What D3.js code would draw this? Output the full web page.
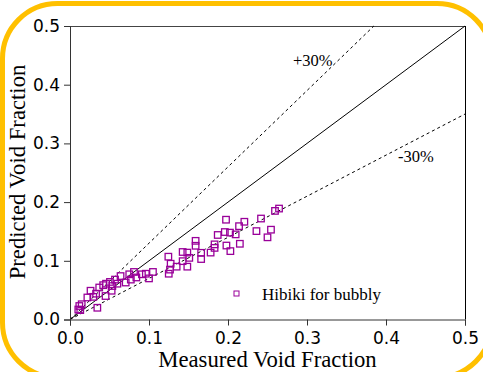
<!DOCTYPE html>
<html>
<head>
<meta charset="utf-8">
<script src="https://cdn.jsdelivr.net/npm/d3@7"></script>
<style>
  body { margin: 0; background: #fff; }
  svg { display: block; }
  .tick-label { font-family: "DejaVu Sans", sans-serif; font-size: 17px; fill: #000; }
  .serif { font-family: "Liberation Serif", "Times New Roman", serif; fill: #000; }
</style>
</head>
<body>
<svg id="chart"></svg>
<script>
// measured vs predicted void fraction (Hibiki for bubbly)
const measured = [
  0.0105, 0.0118, 0.0148, 0.013, 0.0346, 0.022, 0.026, 0.0295, 0.033, 0.037,
  0.042, 0.045, 0.0456, 0.0506, 0.0527, 0.0536, 0.057, 0.060, 0.064, 0.0705,
  0.075, 0.077, 0.081, 0.084, 0.091, 0.096, 0.100, 0.105,
  0.1245, 0.125, 0.1266, 0.1274, 0.135, 0.1426, 0.1426, 0.1485, 0.1485, 0.151,
  0.159, 0.159, 0.166, 0.166, 0.178, 0.183, 0.183, 0.187, 0.196, 0.1975,
  0.198, 0.2025, 0.203, 0.2097, 0.214, 0.215, 0.2207, 0.236, 0.2418, 0.250,
  0.2544, 0.2595, 0.2646,
];
const predicted = [
  0.017, 0.023, 0.026, 0.016, 0.020, 0.0375, 0.049, 0.0386, 0.044, 0.0545,
  0.0585, 0.040, 0.061, 0.064, 0.049, 0.057, 0.068, 0.061, 0.074, 0.063,
  0.077, 0.068, 0.081, 0.0716, 0.077, 0.078, 0.070, 0.081,
  0.107, 0.078, 0.085, 0.095, 0.090, 0.115, 0.0994, 0.114, 0.090, 0.105,
  0.134, 0.1256, 0.1136, 0.103, 0.114, 0.128, 0.122, 0.144, 0.149, 0.170,
  0.126, 0.148, 0.1165, 0.145, 0.159, 0.129, 0.1665, 0.1506, 0.172, 0.140,
  0.153, 0.185, 0.189,
];
const majorTicks = [0, 0.1, 0.2, 0.3, 0.4, 0.5];
const minorTicks = d3.range(0, 26).map((i) => i * 0.02).filter((v) => Math.round(v * 50) % 5 !== 0);
// reference lines: slope, label, style
const refLines = [
  { slope: 1.0, label: null, dash: null },
  { slope: 1.3, label: "+30%", dash: "3,3" },
  { slope: 0.7, label: "-30%", dash: "3,3" },
];
const legendLabel = "Hibiki for bubbly";

const width = 483, height = 372;
const margin = { top: 26, right: 18, bottom: 52.5, left: 70 };
const innerW = width - margin.left - margin.right;
const innerH = height - margin.top - margin.bottom;

const svg = d3.select("#chart").attr("width", width).attr("height", height);

// orange rounded frame
svg.append("rect")
  .attr("x", 2.5).attr("y", 3.5)
  .attr("width", 489.5).attr("height", 374)
  .attr("rx", 55).attr("ry", 55)
  .attr("fill", "none")
  .attr("stroke", "#FFC000")
  .attr("stroke-width", 5);

const g = svg.append("g").attr("transform", `translate(${margin.left},${margin.top})`);

const x = d3.scaleLinear().domain([0, 0.5]).range([0, innerW]);
const y = d3.scaleLinear().domain([0, 0.5]).range([innerH, 0]);

// frame top / right
g.append("line").attr("x1", 0).attr("x2", innerW).attr("y1", 0.5).attr("y2", 0.5)
  .attr("stroke", "#444").attr("stroke-width", 1);
g.append("line").attr("x1", innerW + 0.5).attr("x2", innerW + 0.5).attr("y1", 0).attr("y2", innerH)
  .attr("stroke", "#000").attr("stroke-width", 1);

// reference lines
const clip = (s) => (s > 1 ? 0.5 / s : 0.5);
refLines.forEach((r) => {
  const xe = clip(r.slope);
  g.append("line")
    .attr("x1", x(0)).attr("y1", y(0))
    .attr("x2", x(xe)).attr("y2", y(xe * r.slope))
    .attr("stroke", "#000")
    .attr("stroke-width", 1)
    .attr("stroke-dasharray", r.dash);
});

g.append("text").attr("class", "serif").attr("font-size", 16.5)
  .attr("x", 223).attr("y", 40).text(refLines[1].label);
g.append("text").attr("class", "serif").attr("font-size", 16.5)
  .attr("x", 328).attr("y", 136).text(refLines[2].label);

// axes
const xAxisG = g.append("g").attr("transform", `translate(0,${innerH})`);
xAxisG.call(d3.axisBottom(x).tickValues(minorTicks).tickSize(3).tickFormat(""));
xAxisG.call(d3.axisBottom(x).tickValues(majorTicks).tickSize(6).tickPadding(4).tickFormat(d3.format(".1f")));
xAxisG.selectAll("text").attr("class", "tick-label").attr("dy", "0.75em").attr("y", 12);

const yAxisG = g.append("g");
yAxisG.call(d3.axisLeft(y).tickValues(minorTicks).tickSize(3).tickFormat(""));
yAxisG.call(d3.axisLeft(y).tickValues(majorTicks).tickSize(6).tickPadding(4).tickFormat(d3.format(".1f")));
yAxisG.selectAll("text").attr("class", "tick-label").attr("x", -10);

[xAxisG, yAxisG].forEach((a) => {
  a.selectAll(".domain").attr("stroke", "#333");
  a.selectAll(".tick line").attr("stroke", "#333");
});

// points
g.selectAll(".pt")
  .data(measured.map((m, i) => [m, predicted[i]]))
  .join("rect")
  .attr("class", "pt")
  .attr("x", (d) => x(d[0]) - 3.25)
  .attr("y", (d) => y(d[1]) - 3.25)
  .attr("width", 6.5).attr("height", 6.5)
  .attr("fill", "none")
  .attr("stroke", "#990099")
  .attr("stroke-width", 1.3);

// legend
g.append("rect")
  .attr("x", 164).attr("y", 265)
  .attr("width", 5).attr("height", 5)
  .attr("fill", "none").attr("stroke", "#990099").attr("stroke-width", 1);
g.append("text").attr("class", "serif").attr("font-size", 17)
  .attr("x", 192).attr("y", 274).text(legendLabel);

// axis titles
svg.append("text").attr("class", "serif").attr("font-size", 22.7)
  .attr("text-anchor", "middle")
  .attr("x", margin.left + innerW / 2).attr("y", 367)
  .text("Measured Void Fraction");
svg.append("text").attr("class", "serif").attr("font-size", 22.7)
  .attr("text-anchor", "middle")
  .attr("transform", "translate(25,172) rotate(-90)")
  .text("Predicted Void Fraction");
</script>
</body>
</html>
